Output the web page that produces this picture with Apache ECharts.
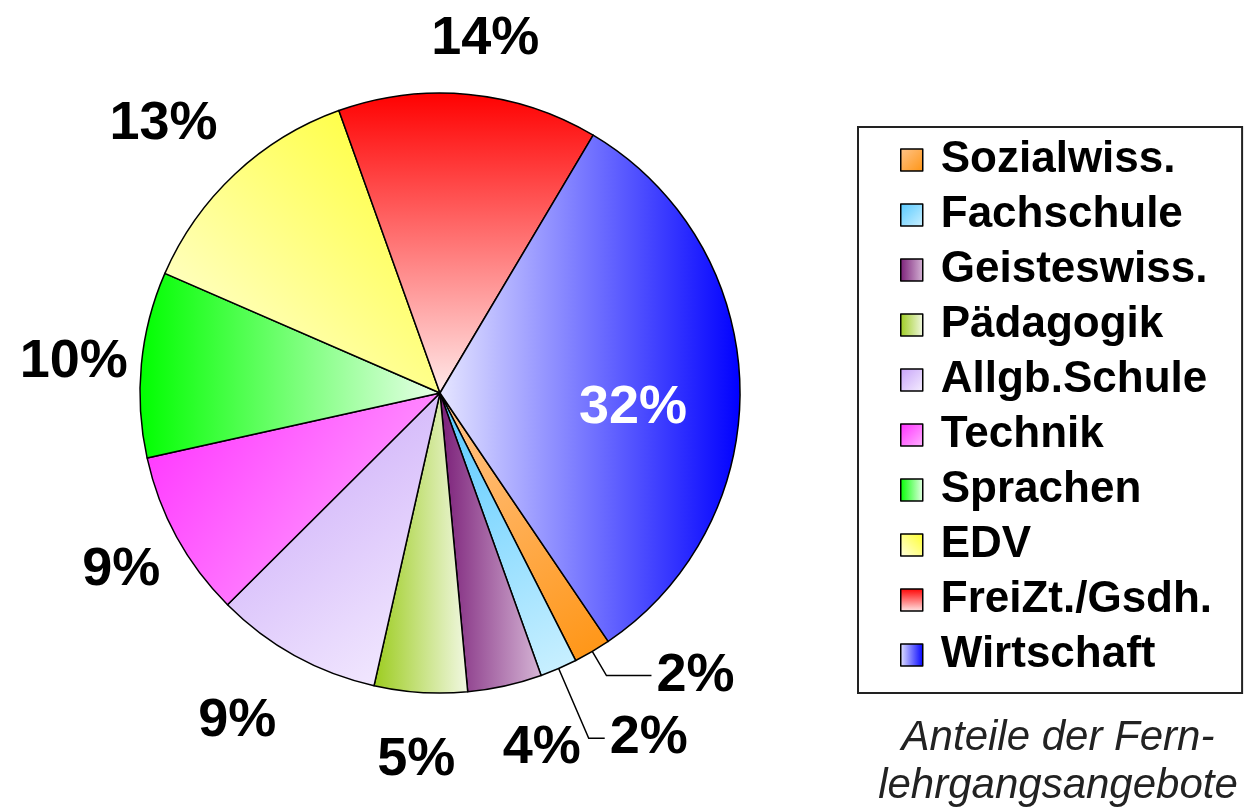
<!DOCTYPE html>
<html>
<head>
<meta charset="utf-8">
<script src="https://cdn.jsdelivr.net/npm/echarts@6/dist/echarts.min.js"></script>
<style>
html,body{margin:0;padding:0;background:#fff;}
#chart{width:1245px;height:807px;}
</style>
</head>
<body>
<div id="chart"></div>
<script>
// ---- data ----
const categories = ['Sozialwiss.', 'Fachschule', 'Geisteswiss.', 'Pädagogik', 'Allgb.Schule', 'Technik', 'Sprachen', 'EDV', 'FreiZt./Gsdh.', 'Wirtschaft'];
const shares = [2, 2, 4, 5, 9, 9, 10, 13, 14, 32];
const captionText = 'Anteile der Fern-\nlehrgangsangebote';

// ---- styles ----
// gradient: [x, y, x2, y2, startColor, endColor]
const gradients = [
  [0, 0, 1, 1, '#ffc58c', '#ff9412'],
  [0, 0, 1, 1, '#55c8ff', '#cdf1ff'],
  [0, 0, 1, 0, '#7a1e78', '#d6b6d6'],
  [0, 0, 1, 0, '#9ccc1e', '#f2f8e4'],
  [0, 0, 1, 1, '#c6a2f8', '#f6efff'],
  [0, 0, 1, 1, '#ff2eff', '#ffb4ff'],
  [0, 0, 1, 0, '#00ff00', '#eaffea'],
  [1, 0, 0, 1, '#ffff2a', '#ffffe4'],
  [0, 0, 0, 1, '#ff0000', '#ffeaea'],
  [0, 0, 1, 0, '#e6e6ff', '#0000ff']
];
// per-slice label settings (outside leader lines / inside / nudges)
const leaderLines = {
  'Sozialwiss.': {length: 28, length2: 45},
  'Fachschule': {length: 76, length2: 16}
};
const insideLabel = {'Wirtschaft': {offset: [40, 20]}};
const labelNudge = {
  'FreiZt./Gsdh.': [10, 12],
  'EDV': [-25, 0],
  'Sprachen': [0, 4],
  'Technik': [4, 0],
  'Allgb.Schule': [-25, 6],
  'Geisteswiss.': [22, -4]
};

const FONT = '"Liberation Sans", Arial, Helvetica, sans-serif';
function grad(g) {
  return {type: 'linear', x: g[0], y: g[1], x2: g[2], y2: g[3],
    colorStops: [{offset: 0, color: g[4]}, {offset: 1, color: g[5]}]};
}

const mainData = categories.map((name, i) => {
  const item = {name, value: shares[i], itemStyle: {color: grad(gradients[i])}};
  if (leaderLines[name]) {
    item.label = {show: true, position: 'outside'};
    item.labelLine = {show: true, length: leaderLines[name].length, length2: leaderLines[name].length2};
  } else if (insideLabel[name]) {
    item.label = {show: true, position: 'inside', color: '#fff', offset: insideLabel[name].offset};
  }
  return item;
});

const ghostData = categories.map((name, i) => ({
  name, value: shares[i],
  label: {show: !(leaderLines[name] || insideLabel[name]), offset: labelNudge[name] || [0, 0]}
}));

const chart = echarts.init(document.getElementById('chart'), null, {renderer: 'canvas'});
chart.setOption({
  animation: false,
  backgroundColor: '#fff',
  legend: {
    data: categories,
    orient: 'vertical',
    left: 858,
    top: 127,
    padding: [11, 30, 16, 42],
    itemGap: 11,
    itemWidth: 22,
    itemHeight: 22,
    icon: 'rect',
    borderColor: '#222',
    borderWidth: 2,
    backgroundColor: '#fff',
    itemStyle: {borderColor: '#000', borderWidth: 1.5},
    selectedMode: false,
    textStyle: {fontFamily: FONT, fontSize: 44, lineHeight: 44, fontWeight: 'bold', color: '#000', padding: [0, 0, 0, 13]}
  },
  graphic: [{
    type: 'text',
    x: 1058,
    y: 714,
    style: {text: captionText, align: 'center', fill: '#222',
      font: 'italic 42px ' + FONT, lineHeight: 48}
  }],
  series: [
    {
      name: 'main',
      type: 'pie',
      center: [440, 393],
      radius: 300,
      startAngle: 304.1,
      clockwise: true,
      avoidLabelOverlap: false,
      silent: true,
      itemStyle: {borderColor: '#000', borderWidth: 1.5},
      label: {show: false, formatter: '{c}%', fontFamily: FONT, fontSize: 54, fontWeight: 'bold', color: '#000', distanceToLabelLine: 5},
      labelLine: {show: false, lineStyle: {color: '#000', width: 1.5}, smooth: false},
      data: mainData
    },
    {
      name: 'labels',
      type: 'pie',
      center: [440, 393],
      radius: [340, 390],
      startAngle: 304.1,
      clockwise: true,
      avoidLabelOverlap: false,
      silent: true,
      legendHoverLink: false,
      itemStyle: {color: 'rgba(0,0,0,0)', borderWidth: 0},
      label: {show: true, position: 'inside', formatter: '{c}%', fontFamily: FONT, fontSize: 54, fontWeight: 'bold', color: '#000'},
      labelLine: {show: false},
      data: ghostData
    }
  ]
});
</script>
</body>
</html>
